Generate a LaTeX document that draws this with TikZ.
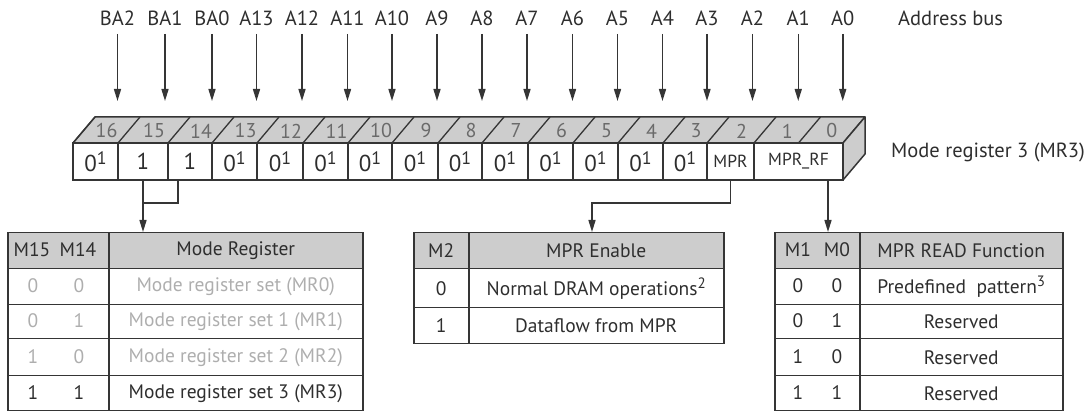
\documentclass[tikz,border=0pt]{standalone}
\usepackage{fontspec}
\setmainfont{PT Sans}
\usetikzlibrary{arrows.meta}
\definecolor{linec}{HTML}{353535}
\definecolor{txt}{HTML}{2E2E2E}
\definecolor{faint}{HTML}{AEAEAE}
\definecolor{hdr}{HTML}{CDCDCD}
\definecolor{numc}{HTML}{6A6A6A}
\newcommand\regfont{\fontsize{23}{25}\selectfont}
\newcommand\numfont{\fontsize{20}{22}\selectfont}
\newcommand\lblfont{\fontsize{20.5}{22}\selectfont}
\newcommand\tabfont{\fontsize{19.5}{21}\selectfont}
\newcommand\mprfont{\fontsize{17.5}{19}\selectfont}
\newcommand\zeroone{0\raisebox{7pt}{\fontsize{18}{18}\selectfont 1}}
\newcommand\supr[1]{\raisebox{7pt}{\fontsize{15}{15}\selectfont #1}}
\begin{document}
\begin{tikzpicture}[x=1pt,y=-1pt,
  every node/.style={inner sep=0pt, text=txt},
  reg/.style={draw=linec, line width=1.5pt, fill=white, minimum height=37pt, font=\regfont},
  face/.style={draw=linec, line width=1.5pt, fill=hdr, line join=round},
  slash/.style={draw=linec, line width=1.3pt},
  bitnum/.style={text=numc, font=\numfont},
  addr/.style={font=\lblfont, anchor=base},
  side/.style={font=\lblfont, anchor=base west},
  arr/.style={draw=linec, line width=1.5pt, -{Triangle[length=12pt,width=7pt]}},
  conn/.style={draw=linec, line width=1.5pt},
  tc/.style={draw=linec, line width=1.5pt, anchor=north west, font=\tabfont},
  hc/.style={tc, fill=hdr},
  tt/.style={font=\tabfont},
  dim/.style={text=faint},
  norm/.style={},
]
\useasboundingbox (0,0) rectangle (1088,411);

% register: top face and side face
\path[face] (73,143) -- (95,117) -- (865,117) -- (843,143) -- cycle;
\path[face] (843,143) -- (865,117) -- (865,154) -- (843,180) -- cycle;

% bit numbers, address labels and arrows
\foreach \l/\r/\num/\lab [count=\i] in {73/118/16/BA2, 118/168/15/BA1, 168/212/14/BA0,
  212/257/13/A13, 257/303/12/A12, 303/348/11/A11, 348/392/10/A10, 392/438/9/A9,
  438/482/8/A8, 482/528/7/A7, 528/573/6/A6, 573/618/5/A5, 618/663/4/A4,
  663/707/3/A3, 707/754/2/A2, 754/798.5/1/A1, 798.5/843/0/A0}{
  \draw[slash] (\l,143) -- ++(22,-26);
  \node[bitnum] (n\i) at ({(\l+\r)/2+11},131) {\num};
  \coordinate (t\i) at ({(\l+\r)/2+22},117);
  \node[addr] (a\i) at ({(\l+\r)/2+22},26) {\lab};
  \draw[arr] ([yshift=-8pt]a\i.base) -- ([yshift=16pt]t\i);
}

% register front cells
\foreach \n/\l/\r/\t in {c16/73/118/{\zeroone}, c15/118/168/1, c14/168/212/1,
  c13/212/257/{\zeroone}, c12/257/303/{\zeroone}, c11/303/348/{\zeroone},
  c10/348/392/{\zeroone}, c9/392/438/{\zeroone}, c8/438/482/{\zeroone},
  c7/482/528/{\zeroone}, c6/528/573/{\zeroone}, c5/573/618/{\zeroone},
  c4/618/663/{\zeroone}, c3/663/707/{\zeroone}, c2/707/754/{\mprfont MPR},
  rf/754/843/{\mprfont MPR\_RF}}{
  \node[reg, minimum width={(\r-\l)*1pt}] (\n) at ({(\l+\r)/2},161.5) {\t};
}

\node[side] (ab) at (898,26) {Address bus};
\node[side] (mr) at (891,158) {Mode register 3 (MR3)};

% table 1
\node[hc, minimum width=101pt, minimum height=36pt] (t1h1) at (7,232) {};
\node[hc, minimum width=254pt, minimum height=36pt] (t1h2) at (108,232) {Mode Register};
\node[tt] (t1m15) at (32,250) {M15};
\node[tt] (t1m14) at (78,250) {M14};
\foreach \y/\h/\a/\b/\txt/\st [count=\i] in {268/36/0/0/{Mode register set (MR0)}/dim,
  304/34/0/1/{Mode register set 1 (MR1)}/dim, 338/37/1/0/{Mode register set 2 (MR2)}/dim,
  375/35/1/1/{Mode register set 3 (MR3)}/norm}{
  \node[tc, minimum width=101pt, minimum height=\h pt] (t1l\i) at (7,\y) {};
  \node[tc, minimum width=254pt, minimum height=\h pt, \st] (t1r\i) at (108,\y) {\txt};
  \node[tt, \st] (t1a\i) at (33,{\y+\h/2}) {\a};
  \node[tt, \st] (t1b\i) at (79,{\y+\h/2}) {\b};
}

% table 2
\node[hc, minimum width=55pt, minimum height=36pt] (t2h1) at (413,232) {M2};
\node[hc, minimum width=255pt, minimum height=36pt] (t2h2) at (468,232) {MPR Enable};
\node[tc, minimum width=55pt, minimum height=39pt] (t2l1) at (413,268) {0};
\node[tc, minimum width=255pt, minimum height=39pt] (t2r1) at (468,268) {Normal DRAM operations\supr{2}};
\node[tc, minimum width=55pt, minimum height=36pt] (t2l2) at (413,307) {1};
\node[tc, minimum width=255pt, minimum height=36pt] (t2r2) at (468,307) {Dataflow from MPR};

% table 3
\node[hc, minimum width=85pt, minimum height=36pt] (t3h1) at (774,232) {};
\node[hc, minimum width=203pt, minimum height=36pt] (t3h2) at (859,232) {MPR READ Function};
\node[tt] (t3m1) at (798,250) {M1};
\node[tt] (t3m0) at (837,250) {M0};
\foreach \y/\h/\a/\b/\txt [count=\i] in {268/36/0/0/{Predefined~ pattern\supr{3}},
  304/34/0/1/Reserved, 338/37/1/0/Reserved, 375/35/1/1/Reserved}{
  \node[tc, minimum width=85pt, minimum height=\h pt] (t3l\i) at (774,\y) {};
  \node[tc, minimum width=203pt, minimum height=\h pt] (t3r\i) at (859,\y) {\txt};
  \node[tt] (t3a\i) at (798,{\y+\h/2}) {\a};
  \node[tt] (t3b\i) at (837,{\y+\h/2}) {\b};
}

% connectors
\coordinate (j1) at (143,203);
\coordinate (j2) at (592,203);
\coordinate (rfo) at ([xshift=29.5pt]rf.south);
\draw[conn] ([xshift=-12pt]c14.south) |- (j1);
\draw[arr] (c15.south) -- (c15.south |- t1h2.north);
\draw[arr] (c2.south) |- (j2) -- (j2 |- t2h2.north);
\draw[arr] (rfo) -- (rfo |- t3h1.north);
\end{tikzpicture}
\end{document}
